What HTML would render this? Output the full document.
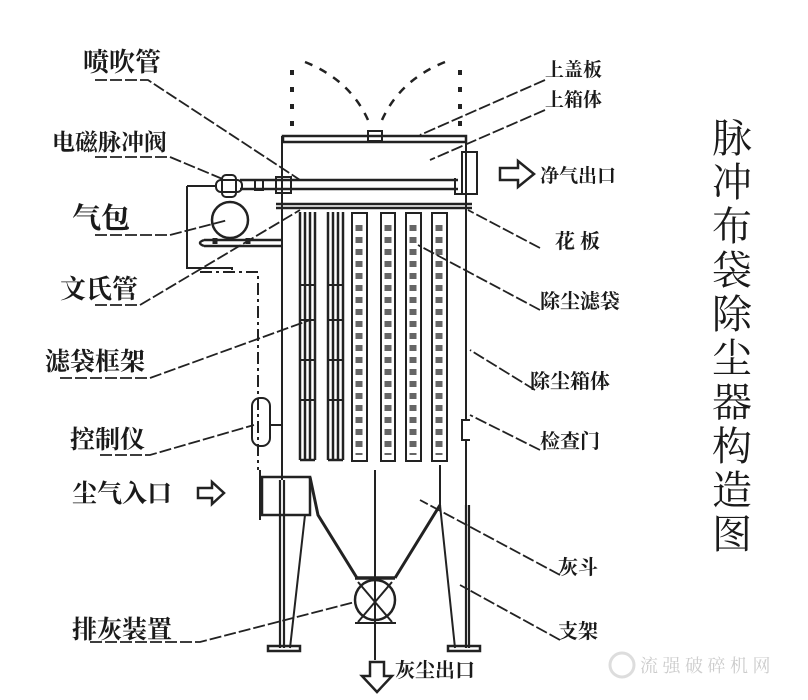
<!DOCTYPE html><html><head><meta charset="utf-8"><style>body{margin:0;background:#fff}svg text{font-family:"Liberation Serif","Noto Serif CJK SC","Noto Sans CJK SC",serif;fill:#1a1a1a;font-weight:bold}svg text.n{font-weight:normal}</style></head><body>
<svg width="808" height="695" viewBox="0 0 808 695" xmlns="http://www.w3.org/2000/svg">
<rect width="808" height="695" fill="#fff"/>
<g stroke="#222" fill="none" stroke-width="2">
<path d="M292 70 L292 132 M460 70 L460 132" stroke-dasharray="5 12" stroke-width="4"/>
<path d="M305 62 Q350 80 368 120 M445 62 Q400 80 382 120" stroke-dasharray="8 8" stroke-width="2.5"/>
<rect x="283" y="136" width="183" height="6" stroke-width="2.5"/>
<rect x="368" y="131" width="14" height="10"/>
<path d="M282 136 V480 M466 136 V420 M466 440 V505 M470 420 H462 V440 H470"/>
<rect x="462" y="152" width="15" height="42"/>
<path d="M240 180 H458 M240 189 H458" stroke-width="2.5"/>
<rect x="276" y="177" width="15" height="16"/>
<rect x="255" y="180" width="8" height="10"/>
<rect x="222" y="175" width="14" height="22" rx="4"/>
<rect x="216" y="180" width="26" height="12" rx="5"/>
<path d="M455 178 V194 H466"/>
<circle cx="230" cy="220" r="18" stroke-width="2.5"/>
<path d="M204 240 H282 M204 246 H282 M204 240 Q196 243 204 246" stroke-width="2.5"/>
<path d="M215 238 V244 M248 238 V244" stroke-width="5"/>
<path d="M187 186 H215 M187 186 V268 H232 V270" />
<path d="M200 272 H258 V470" stroke-dasharray="12 4 3 4"/>
<path d="M276 204 H472 M276 208 H472" stroke-width="2.5"/>
<g stroke-width="2.5">
<path d="M300 212 V460 M305 212 V460 M310 212 V460 M315 212 V460 M300 460 H315"/>
<path d="M328 212 V460 M333 212 V460 M338 212 V460 M343 212 V460 M328 460 H343"/>
<path d="M300 285 H315 M300 320 H315 M300 360 H315 M300 400 H315 M328 285 H343 M328 320 H343 M328 360 H343 M328 400 H343" stroke-width="2"/>
</g>
<g stroke-width="2">
<rect x="352" y="213" width="15" height="248"/><rect x="381" y="213" width="14" height="248"/><rect x="406" y="213" width="15" height="248"/><rect x="432" y="213" width="15" height="248"/>
</g>
<path d="M359 225 V455 M388 225 V455 M413 225 V455 M439 225 V455" stroke-width="7" stroke="#666" stroke-dasharray="6 6"/>
<rect x="252" y="398" width="18" height="48" rx="8"/>
<path d="M270 425 H282"/>
<rect x="262" y="477" width="48" height="38" stroke-width="2.5"/>
<path d="M260 470 V520"/>
<path d="M310 477 L318 515 L357 578 M440 505 L395 578" stroke-width="3"/>
<path d="M355 578 H395" stroke-width="3.5"/>
<circle cx="375" cy="600" r="20" stroke-width="2.5"/>
<path d="M358 582 L392 622 M392 582 L358 622 M355 623 H396"/>
<path d="M375 470 V660" />
<path d="M440 465 V505"/>
<path d="M280 480 V648 M284 480 V648 M466 505 V648 M469 505 V648" stroke-width="2.2"/>
<path d="M305 515 L290 648 M440 505 L455 648"/>
<rect x="268" y="646" width="32" height="5" stroke-width="2.5"/><rect x="448" y="646" width="32" height="5" stroke-width="2.5"/>
<path d="M370 662 V676 H362 L377 692 L392 676 H384 V662 Z" stroke-width="2.5"/>
<path d="M500 168 H518 V161 L534 174 L518 187 V180 H500 Z" stroke-width="2.5"/>
<path d="M198 488 H212 V482 L224 493 L212 504 V498 H198 Z" stroke-width="2.5"/>
<g stroke-dasharray="12 3" stroke-width="1.8">
<path d="M95 80 H148 L300 180"/>
<path d="M95 157 H170 L225 180"/>
<path d="M95 235 H170 L228 220"/>
<path d="M95 305 H140 L300 210"/>
<path d="M60 378 H150 L310 320"/>
<path d="M100 455 H150 L254 425"/>
<path d="M90 642 H200 L355 602"/>
<path d="M545 80 L420 135"/>
<path d="M545 110 L430 160"/>
<path d="M540 248 L468 210"/>
<path d="M540 310 L418 245"/>
<path d="M535 390 L470 350"/>
<path d="M540 450 L470 415"/>
<path d="M560 575 L420 500"/>
<path d="M560 640 L460 585"/>
</g>
</g>
<g font-size="23">
<text x="83" y="71" font-size="26">喷吹管</text>
<text x="52" y="150">电磁脉冲阀</text>
<text x="72" y="228" font-size="29">气包</text>
<text x="60" y="298" font-size="26">文氏管</text>
<text x="45" y="370" font-size="25">滤袋框架</text>
<text x="70" y="448" font-size="25">控制仪</text>
<text x="72" y="502" font-size="25">尘气入口</text>
<text x="72" y="638" font-size="25">排灰装置</text>
<text x="545" y="76" font-size="19">上盖板</text>
<text x="545" y="106" font-size="19">上箱体</text>
<text x="540" y="182" font-size="19">净气出口</text>
<text x="555" y="248" font-size="20">花 板</text>
<text x="540" y="308" font-size="20">除尘滤袋</text>
<text x="530" y="388" font-size="20">除尘箱体</text>
<text x="540" y="448" font-size="20">检查门</text>
<text x="558" y="574" font-size="20">灰斗</text>
<text x="558" y="638" font-size="20">支架</text>
<text x="395" y="677" font-size="20">灰尘出口</text>
</g>
<g font-size="40">
<text class="n" x="712" y="152">脉</text><text class="n" x="712" y="196">冲</text><text class="n" x="712" y="240">布</text><text class="n" x="712" y="284">袋</text><text class="n" x="712" y="328">除</text><text class="n" x="712" y="372">尘</text><text class="n" x="712" y="416">器</text><text class="n" x="712" y="460">构</text><text class="n" x="712" y="504">造</text><text class="n" x="712" y="548">图</text>
</g>
<text class="n" x="640" y="672" font-size="18" style="fill:#ccc">流 强 破 碎 机 网</text>
<circle cx="622" cy="665" r="12" fill="none" stroke="#ddd" stroke-width="3"/>
</svg></body></html>
